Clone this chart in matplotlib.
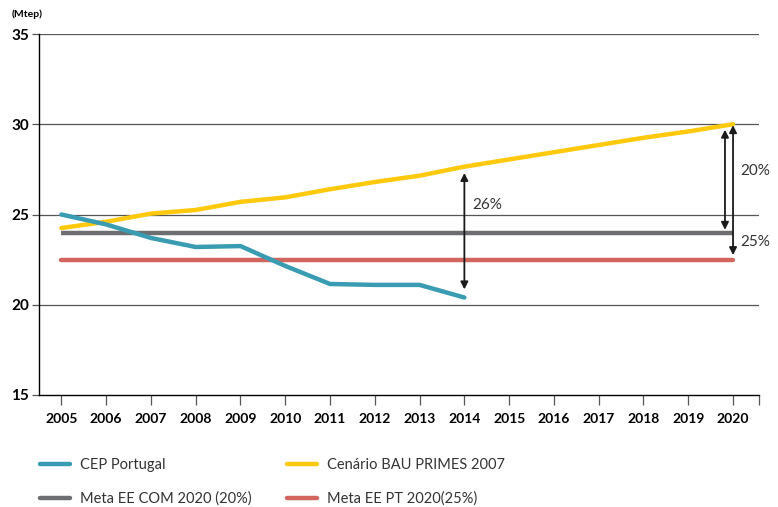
import numpy as np
import matplotlib.pyplot as plt
from matplotlib.lines import Line2D

plt.rcParams['font.family'] = ['Lato', 'DejaVu Sans']

# Data (Mtep)
years = np.arange(2005, 2021)
cep_years = np.arange(2005, 2015)
cep_portugal = [25.0, 24.45, 23.7, 23.2, 23.25, 22.15, 21.15, 21.1, 21.1, 20.4]
bau_primes = [24.25, 24.6, 25.05, 25.25, 25.7, 25.95, 26.4, 26.8, 27.15, 27.65,
              28.05, 28.45, 28.85, 29.25, 29.6, 30.0]
meta_com = [24.0] * len(years)
meta_pt = [22.5] * len(years)

c_cep = '#3a9cb2'
c_bau = '#ffc90e'
c_com = '#6d6e71'
c_pt = '#d2665f'

fig = plt.figure(figsize=(7.78, 5.07), dpi=100)
ax = fig.add_axes([39 / 778, 1 - 395 / 507, (759 - 39) / 778, (395 - 34) / 507])

# Gridlines
for yv in [20, 25, 30, 35]:
    ax.axhline(yv, color='#555555', lw=0.9, zorder=1)

ax.plot(years, meta_pt, color=c_pt, lw=3.2, solid_capstyle='round', zorder=3)
ax.plot(years, meta_com, color=c_com, lw=3.2, solid_capstyle='butt', zorder=3)
ax.plot(years, bau_primes, color=c_bau, lw=3.2, solid_capstyle='round', zorder=4)
ax.plot(cep_years, cep_portugal, color=c_cep, lw=3.2, solid_capstyle='round', zorder=4)

# Arrows
arrow = dict(arrowstyle='<|-|>', color='#1a1a1a', lw=1.3, mutation_scale=11,
             shrinkA=0, shrinkB=0)
ax.annotate('', xy=(2014, 20.85), xytext=(2014, 27.3), arrowprops=arrow, zorder=5)
ax.annotate('', xy=(2019.82, 24.15), xytext=(2019.82, 29.7), arrowprops=arrow, zorder=5)
ax.annotate('', xy=(2020.0, 22.75), xytext=(2020.0, 29.95), arrowprops=arrow, zorder=5)
ax.text(2014.17, 25.5, '26%', fontsize=11, color='#333333', va='center')
ax.text(2020.17, 27.4, '20%', fontsize=11, color='#333333', va='center')
ax.text(2020.17, 23.5, '25%', fontsize=11, color='#333333', va='center')

ax.set_xlim(2004.5, 2020.58)
ax.set_ylim(15, 35)
ax.set_xticks(list(years) + [2020.58])
ax.set_xticklabels([str(y) for y in years] + [''], fontsize=10, fontweight='bold')
ax.set_yticks([15, 20, 25, 30, 35])
ax.set_yticklabels(['15', '20', '25', '30', '35'], fontsize=11, fontweight='bold')
ax.tick_params(axis='x', direction='out', length=7, width=0.9, color='#555555', pad=6)
ax.tick_params(axis='y', direction='out', length=5, width=0.9, color='#555555', pad=2)
for s in ['top', 'right']:
    ax.spines[s].set_visible(False)
ax.spines['left'].set_linewidth(1.0)
ax.spines['bottom'].set_linewidth(1.0)

fig.text(12 / 778, 1 - 14 / 507, '(Mtep)', fontsize=7.5, fontweight='bold', va='center')

handles = [
    Line2D([], [], color=c_cep, lw=3.2, solid_capstyle='round'),
    Line2D([], [], color=c_com, lw=3.2, solid_capstyle='round'),
    Line2D([], [], color=c_bau, lw=3.2, solid_capstyle='round'),
    Line2D([], [], color=c_pt, lw=3.2, solid_capstyle='round'),
]
labels = ['CEP Portugal', 'Meta EE COM 2020 (20%)',
          'Cenário BAU PRIMES 2007', 'Meta EE PT 2020(25%)']
fig.legend(handles, labels, ncol=2, loc='upper left', bbox_to_anchor=(27 / 778, 1 - 445 / 507),
           frameon=False, fontsize=10.5, handlelength=2.05, handletextpad=0.7,
           columnspacing=2.4, labelspacing=1.35, labelcolor='#333333')

fig.savefig('out.png', dpi=100)
